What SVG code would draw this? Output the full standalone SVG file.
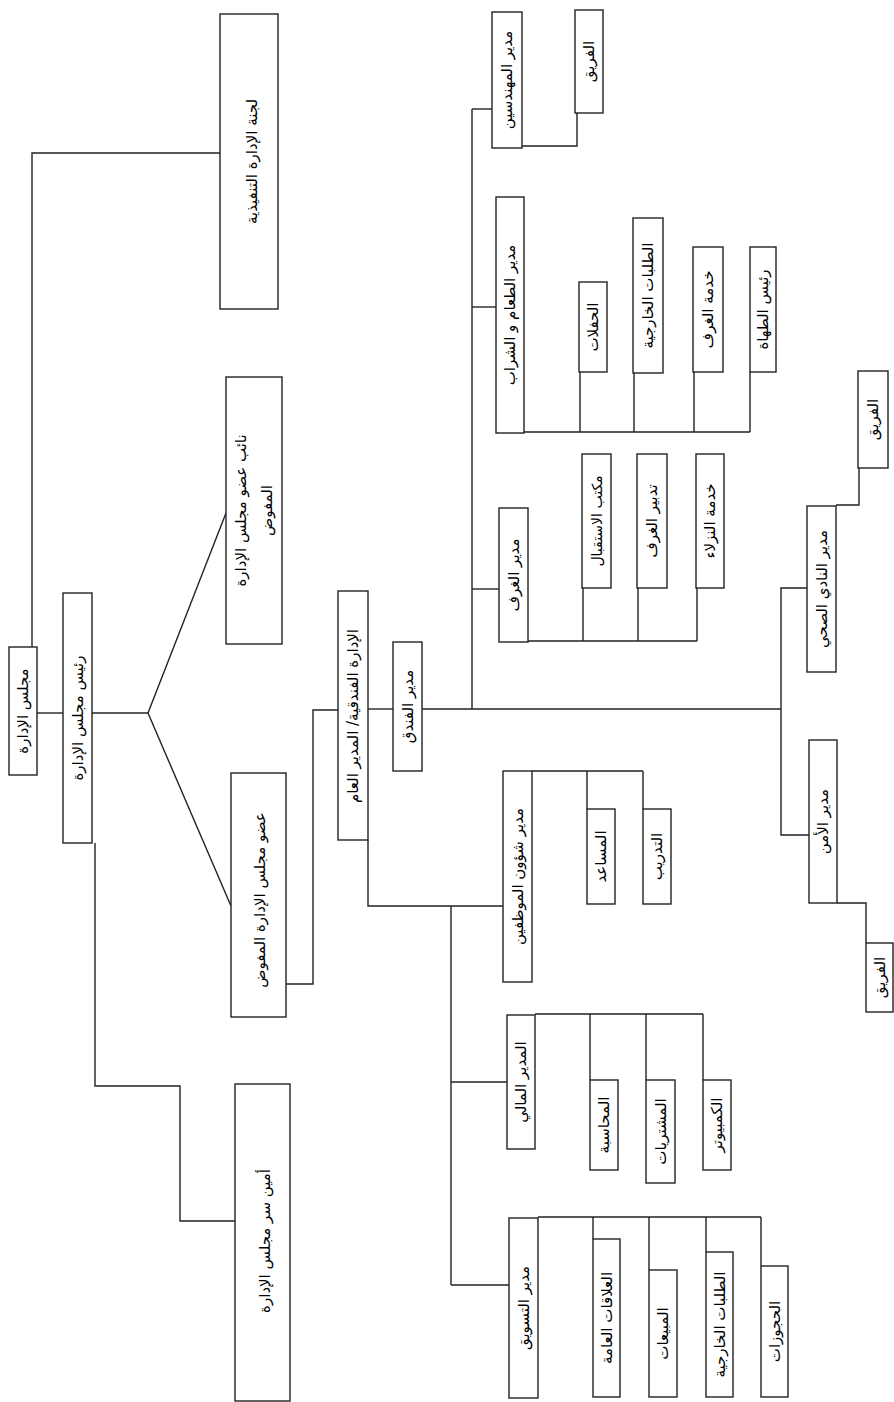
<svg xmlns="http://www.w3.org/2000/svg" width="894" height="1402" viewBox="0 0 894 1402">
<style>
.box{fill:#fff;stroke:#222;stroke-width:1.4}
.ln{fill:none;stroke:#222;stroke-width:1.4}
.t{font-family:'DejaVu Sans',sans-serif;font-size:15px;fill:#000;text-anchor:middle;dominant-baseline:central}
.s{font-size:14px}
</style>
<rect width="894" height="1402" fill="#fff"/>
<g id="connectors" class="ln">
<path d="M220,153 H32 V647"/>
<path d="M37,713 H63"/>
<path d="M92,713 H148"/>
<path d="M148,713 L226,513"/>
<path d="M148,713 L231,906"/>
<path d="M95,843 V1086 H180 V1221 H235"/>
<path d="M286,984 H313 V710 H338"/>
<path d="M368,709 H393"/>
<path d="M422,709 H781"/>
<path d="M472,109 V709"/>
<path d="M472,109 H492"/>
<path d="M522,146 H577 V113"/>
<path d="M472,307 H496"/>
<path d="M524,432 H750 M580,372 V432 M634,373 V432 M694,372 V432 M750,372 V432"/>
<path d="M472,589 H499"/>
<path d="M528,641 H697 M583,588 V641 M638,588 V641 M697,588 V641"/>
<path d="M781,709 V588 H807"/>
<path d="M781,709 V835 H809"/>
<path d="M836,505 H859 V468"/>
<path d="M837,903 H866 V943"/>
<path d="M368,840 V906 H503"/>
<path d="M451,906 V1285"/>
<path d="M532,771 H643 M587,771 V809 M643,771 V809"/>
<path d="M451,1082 H507"/>
<path d="M535,1014 H703 M590,1014 V1080 M646,1014 V1080 M703,1014 V1080"/>
<path d="M451,1285 H509"/>
<path d="M538,1217 H761 M593,1217 V1239 M649,1217 V1270 M706,1217 V1252 M761,1217 V1266"/>
</g>
<g id="n_majlis"><rect class="box" x="9" y="647" width="28" height="128"/><text class="t" transform="translate(23,711) rotate(-90)">مجلس الإدارة</text></g>
<g id="n_raees"><rect class="box" x="63" y="593" width="29" height="250"/><text class="t" transform="translate(77.5,718) rotate(-90)">رئيس مجلس الإدارة</text></g>
<g id="n_lajna"><rect class="box" x="220" y="14" width="58" height="295"/><text class="t" transform="translate(252,161.5) rotate(-90)">لجنة الإدارة التنفيذية</text></g>
<g id="n_naib"><rect class="box" x="226" y="377" width="56" height="267"/><text class="t" transform="translate(254,510.5) rotate(-90)"><tspan x="0" y="-13">نائب عضو مجلس الإدارة</tspan><tspan x="0" y="13">المفوض</tspan></text></g>
<g id="n_udw"><rect class="box" x="231" y="773" width="55" height="244"/><text class="t" transform="translate(260,900) rotate(-90)">عضو مجلس الإدارة المفوض</text></g>
<g id="n_ameen"><rect class="box" x="235" y="1084" width="55" height="317"/><text class="t" transform="translate(265,1241) rotate(-90)">أمين سر مجلس الإدارة</text></g>
<g id="n_idara"><rect class="box" x="338" y="591" width="30" height="249"/><text class="t" transform="translate(353,716) rotate(-90)">الإدارة الفندقية/ المدير العام</text></g>
<g id="n_funduq"><rect class="box" x="393" y="642" width="29" height="129"/><text class="t" transform="translate(407.5,706.5) rotate(-90)">مدير الفندق</text></g>
<g id="n_eng"><rect class="box" x="492" y="12" width="30" height="136"/><text class="t" transform="translate(507,80) rotate(-90)">مدير المهندسين</text></g>
<g id="n_eng_team"><rect class="box" x="575" y="10" width="28" height="103"/><text class="t" transform="translate(589,61.5) rotate(-90)">الفريق</text></g>
<g id="n_fb"><rect class="box" x="496" y="197" width="28" height="236"/><text class="t" transform="translate(510,315) rotate(-90)">مدير الطعام و الشراب</text></g>
<g id="n_parties"><rect class="box" x="579" y="282" width="28" height="90"/><text class="t" transform="translate(593,327) rotate(-90)">الحفلات</text></g>
<g id="n_fb_ext"><rect class="box" x="633" y="218" width="30" height="155"/><text class="t" transform="translate(648,295.5) rotate(-90)">الطلبات الخارجية</text></g>
<g id="n_roomsvc"><rect class="box" x="693" y="247" width="30" height="125"/><text class="t" transform="translate(708,309.5) rotate(-90)">خدمة الغرف</text></g>
<g id="n_chef"><rect class="box" x="750" y="247" width="26" height="125"/><text class="t" transform="translate(763,309.5) rotate(-90)">رئيس الطهاة</text></g>
<g id="n_rooms"><rect class="box" x="499" y="508" width="29" height="134"/><text class="t" transform="translate(513.5,575) rotate(-90)">مدير الغرف</text></g>
<g id="n_reception"><rect class="box" x="582" y="454" width="29" height="134"/><text class="t s" transform="translate(596.5,521) rotate(-90)">مكتب الاستقبال</text></g>
<g id="n_housekeeping"><rect class="box" x="637" y="454" width="30" height="134"/><text class="t" transform="translate(652,521) rotate(-90)">تدبير الغرف</text></g>
<g id="n_guest"><rect class="box" x="696" y="454" width="28" height="134"/><text class="t" transform="translate(710,521) rotate(-90)">خدمة النزلاء</text></g>
<g id="n_club"><rect class="box" x="807" y="506" width="29" height="166"/><text class="t" transform="translate(821.5,589) rotate(-90)">مدير النادي الصحي</text></g>
<g id="n_club_team"><rect class="box" x="858" y="371" width="30" height="97"/><text class="t" transform="translate(873,419.5) rotate(-90)">الفريق</text></g>
<g id="n_security"><rect class="box" x="809" y="740" width="28" height="163"/><text class="t" transform="translate(823,821.5) rotate(-90)">مدير الأمن</text></g>
<g id="n_sec_team"><rect class="box" x="866" y="943" width="27" height="69"/><text class="t" transform="translate(879.5,977.5) rotate(-90)">الفريق</text></g>
<g id="n_hr"><rect class="box" x="503" y="771" width="29" height="211"/><text class="t" transform="translate(517.5,876.5) rotate(-90)">مدير شؤون الموظفين</text></g>
<g id="n_assistant"><rect class="box" x="587" y="809" width="28" height="95"/><text class="t" transform="translate(601,856.5) rotate(-90)">المساعد</text></g>
<g id="n_training"><rect class="box" x="643" y="809" width="28" height="95"/><text class="t" transform="translate(657,856.5) rotate(-90)">التدريب</text></g>
<g id="n_finance"><rect class="box" x="507" y="1015" width="28" height="134"/><text class="t" transform="translate(521,1082) rotate(-90)">المدير المالي</text></g>
<g id="n_accounting"><rect class="box" x="590" y="1080" width="28" height="90"/><text class="t" transform="translate(604,1125) rotate(-90)">المحاسبة</text></g>
<g id="n_purchases"><rect class="box" x="646" y="1080" width="29" height="103"/><text class="t" transform="translate(660.5,1131.5) rotate(-90)">المشتريات</text></g>
<g id="n_computer"><rect class="box" x="703" y="1080" width="28" height="90"/><text class="t" transform="translate(717,1125) rotate(-90)">الكمبيوتر</text></g>
<g id="n_marketing"><rect class="box" x="509" y="1218" width="29" height="180"/><text class="t" transform="translate(523.5,1308) rotate(-90)">مدير التسويق</text></g>
<g id="n_pr"><rect class="box" x="593" y="1239" width="27" height="158"/><text class="t" transform="translate(606.5,1318) rotate(-90)">العلاقات العامة</text></g>
<g id="n_sales"><rect class="box" x="649" y="1270" width="28" height="127"/><text class="t" transform="translate(663,1333.5) rotate(-90)">المبيعات</text></g>
<g id="n_mkt_ext"><rect class="box" x="706" y="1252" width="27" height="145"/><text class="t" transform="translate(719.5,1324.5) rotate(-90)">الطلبات الخارجية</text></g>
<g id="n_reservations"><rect class="box" x="761" y="1266" width="27" height="131"/><text class="t" transform="translate(774.5,1331.5) rotate(-90)">الحجوزات</text></g>
</svg>
